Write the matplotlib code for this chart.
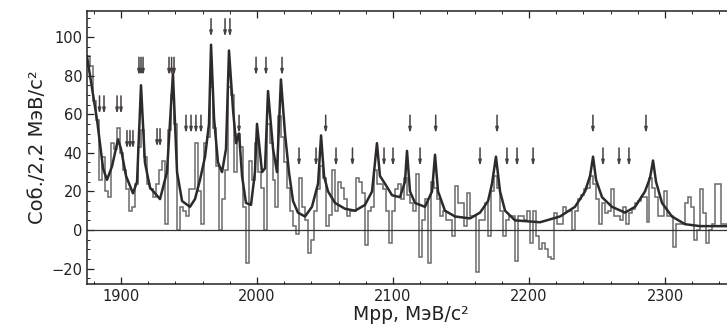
import numpy as np
import matplotlib
matplotlib.use("Agg")
import matplotlib.pyplot as plt
from matplotlib.ticker import MultipleLocator

# ---------------- data ----------------
bin_start = 1875.0
bin_width = 2.2
counts = [
    90, 85, 67, 57, 26, 38, 20, 17, 45, 42,
    53, 40, 31, 21, 10, 12, 24, 43, 52, 38,
    24, 21, 17, 24, 31, 36, 3, 52, 70, 55,
    0, 12, 10, 7, 21, 21, 45, 20, 3, 45,
    48, 74, 53, 33, 0, 16, 31, 74, 70, 30,
    50, 43, 12, -17, 36, 26, 45, 30, 22, 0,
    55, 45, 26, 12, 59, 48, 35, 22, 10, 2,
    -2, 27, 12, 5, -12, -5, 10, 21, 33, 27,
    2, 8, 31, 10, 25, 22, 16, 7, 10, 10,
    27, 25, 19, -8, 10, 12, 31, 24, 24, 21,
    10, -7, 10, 21, 24, 16, 27, 18, 14, 10,
    29, -14, 5, 16, -17, 25, 22, 16, 7, 10,
    5, 5, -3, 23, 14, 14, 2, 19, 7, 7,
    -22, 5, 5, 14, -3, 20, 28, 22, 10, -3,
    5, 7, 7, -16, 7, 7, 5, 10, -7, 10,
    -3, -10, -7, -10, -14, -15, 9, 3, 3, 12,
    10, 10, 0, 10, 16, 18, 21, 22, 28, 24,
    16, 3, 14, 9, 10, 21, 7, 7, 5, 12,
    3, 9, 11, 14, 15, 17, 17, 4, 27, 22,
    17, 7, 7, 20, 7, 7, -9, 3, 3, 3,
    14, 17, 12, -5, 0, 21, 9, -7, 0, 3,
    24, 24, 3, 3,
]

fit_x = [1875.0, 1882.4, 1886.8, 1889.7, 1893.4, 1897.8, 1900.0, 1903.7, 1908.8, 1911.8,
         1914.7, 1917.6, 1921.3, 1928.7, 1933.8, 1938.2, 1941.2, 1944.9, 1950.7, 1954.4,
         1958.1, 1961.8, 1964.7, 1966.2, 1968.4, 1971.3, 1974.3, 1977.2, 1979.4, 1982.4,
         1984.6, 1986.8, 1989.0, 1991.9, 1995.6, 1998.5, 2000.0, 2003.7, 2005.9, 2008.1,
         2011.8, 2014.7, 2017.6, 2020.6, 2023.5, 2026.5, 2030.1, 2035.3, 2040.4, 2044.9,
         2047.1, 2049.3, 2052.2, 2057.4, 2064.7, 2072.1, 2079.4, 2084.6, 2088.2, 2090.4,
         2094.1, 2099.3, 2105.1, 2108.8, 2110.3, 2112.5, 2116.2, 2123.5, 2128.7, 2130.9,
         2133.1, 2138.2, 2145.6, 2156.6, 2164.0, 2169.9, 2172.8, 2175.7, 2178.7, 2182.4,
         2189.7, 2208.1, 2222.8, 2233.8, 2241.2, 2244.9, 2247.1, 2249.3, 2253.7, 2261.0,
         2270.6, 2278.0, 2285.3, 2289.0, 2291.2, 2293.4, 2297.8, 2305.1, 2314.7, 2325.7,
         2345.6, 2352.0]
fit_y = [90, 57, 32, 26, 33, 47, 42, 28, 19, 25,
         75, 35, 22, 16, 30, 81, 30, 15, 12, 16,
         26, 38, 55, 96, 58, 35, 30, 42, 93, 62,
         45, 50, 28, 14, 13, 30, 55, 30, 32, 72,
         42, 30, 78, 50, 30, 15, 9, 7, 12, 24,
         49, 28, 20, 14, 11, 10, 13, 20, 45, 28,
         24, 18, 17, 25, 41, 20, 14, 12, 20, 39,
         20, 10, 7, 6, 9, 15, 24, 38, 20, 10,
         5, 4, 7, 12, 20, 28, 38, 26, 17, 12,
         9, 12, 20, 27, 36, 25, 14, 7, 3, 2,
         2, 2]

arrow_x = [1884.2, 1887.5, 1897.1, 1900.0, 1904.4, 1906.6, 1908.8, 1913.2, 1914.7, 1916.2,
           1926.5, 1928.7, 1935.3, 1937.2, 1939.0, 1947.8, 1951.5, 1955.1, 1958.8, 1966.2,
           1976.5, 1980.1, 1986.8, 1999.3, 2006.6, 2018.4, 2030.9, 2043.4, 2050.5, 2058.1,
           2070.2, 2093.4, 2100.0, 2112.5, 2119.9, 2131.4, 2164.0, 2176.5, 2183.8, 2191.2,
           2203.0, 2247.0, 2254.4, 2266.2, 2273.5, 2286.0]
arrow_tip = [60, 60, 60, 60, 42, 42, 42, 80, 80, 80,
             43, 43, 80, 80, 80, 50, 50, 50, 50, 100,
             100, 100, 50, 80, 80, 80, 33, 33, 50, 33,
             33, 33, 33, 50, 33, 50, 33, 50, 33, 33,
             33, 50, 33, 33, 33, 50]

x_ticks = [1900, 2000, 2100, 2200, 2300]
y_ticks = [-20, 0, 20, 40, 60, 80, 100]

# ---------------- figure ----------------
W, H = 727, 333
fig = plt.figure(figsize=(W / 100, H / 100), dpi=100)
fig.patch.set_facecolor("white")
ax = fig.add_axes([87 / W, (H - 284) / H, 647 / W, 273 / H])

edges = bin_start + bin_width * np.arange(len(counts) + 1)
ax.stairs(counts, edges, color="#6a6a6a", lw=1.1, baseline=None)
ax.plot(fit_x, fit_y, color="#2e2a2a", lw=1.8, solid_joinstyle="round")
ax.axhline(0, color="#333333", lw=0.9)

for xa, yt in zip(arrow_x, arrow_tip):
    ax.annotate("", xy=(xa, yt), xytext=(xa, yt + 9.5),
                arrowprops=dict(arrowstyle="-|>,head_width=0.08,head_length=0.3",
                                lw=1.1, color="#463f3f", shrinkA=0, shrinkB=0))

ax.set_xlim(1875.0, 1875.0 + 647 / 1.36)
ax.set_ylim(-28, 113.5)
ax.set_xticks(x_ticks)
ax.set_yticks(y_ticks)
ax.xaxis.set_minor_locator(MultipleLocator(20))
ax.yaxis.set_minor_locator(MultipleLocator(5))
ax.tick_params(which="both", direction="in", top=True, right=False,
               labelsize=10.5, colors="#222222")
ax.tick_params(which="major", length=5, width=0.9)
ax.tick_params(which="minor", length=2.5, width=0.7)
for s in ax.spines.values():
    s.set_linewidth(1.1)
    s.set_color("#222222")

ax.set_xlabel("Mpp, МэВ/с²", fontsize=13.5, color="#222222", labelpad=1)
ax.set_ylabel("Соб./2,2 МэВ/с²", fontsize=14, color="#222222", labelpad=3)

fig.savefig("out.png", dpi=100, facecolor="white")
